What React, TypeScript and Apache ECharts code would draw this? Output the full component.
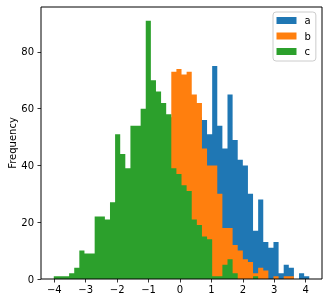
import React, { useEffect, useRef } from "react";
import * as echarts from "echarts";

// Histogram bins (shared by all columns)
const X_MIN = -4.017;
const BIN_W = 0.1626;

// Counts per bin, 50 bins each
const A_COUNTS = [
  0, 0, 0, 0, 0, 0, 0, 0, 0, 0, 0, 0, 1, 1, 2, 3, 4, 6, 8, 12, 14, 19, 24, 28, 35,
  42, 47, 52, 57, 56, 51, 75, 54, 46, 65, 49, 42, 40, 30, 17, 28, 13, 11, 13, 2, 5, 4, 0, 2, 1,
];
const B_COUNTS = [
  0, 0, 0, 0, 1, 0, 1, 1, 2, 3, 4, 5, 8, 11, 13, 19, 22, 30, 34, 43, 46, 55, 57, 73, 74,
  72, 73, 65, 62, 46, 40, 40, 30, 18, 18, 12, 10, 7, 6, 2, 4, 3, 0, 1, 0, 1, 1, 0, 0, 0,
];
const C_COUNTS = [
  1, 1, 1, 2, 4, 10, 9, 9, 22, 22, 21, 27, 51, 44, 39, 54, 54, 60, 91, 70, 66, 62, 58, 39, 37,
  33, 31, 21, 19, 15, 14, 1, 1, 5, 7, 2, 0, 0, 0, 1, 0, 0, 0, 0, 0, 0, 0, 0, 0, 0,
];

const SERIES_NAMES = ["a", "b", "c"];
const COLORS = ["#1f77b4", "#ff7f0e", "#2ca02c"];
const X_TICKS = [-4, -3, -2, -1, 0, 1, 2, 3, 4];
const Y_TICKS = [0, 20, 40, 60, 80];
const X_RANGE = [-4.424, 4.519];
const Y_RANGE = [0, 95.8];
const Y_NAME = "Frequency";

const FONT = "DejaVu Sans";

export default function App() {
  const ref = useRef<HTMLDivElement>(null);
  useEffect(() => {
    const chart = echarts.init(ref.current!, null, { renderer: "svg" });
    const makeSeries = (name: string, counts: number[], color: string) => {
      const pts = counts.map((c, i) => [X_MIN + i * BIN_W, c]);
      pts.push([X_MIN + counts.length * BIN_W, counts[counts.length - 1]]);
      return {
        type: "line",
        name,
        step: "end",
        symbol: "none",
        showSymbol: false,
        clip: true,
        itemStyle: { color },
        lineStyle: { width: 0, color, opacity: 0 },
        areaStyle: { color, opacity: 1 },
        data: pts,
      };
    };
    const allCounts = [A_COUNTS, B_COUNTS, C_COUNTS];
    chart.setOption({
      animation: false,
      textStyle: { fontFamily: FONT },
      grid: {
        left: 41,
        right: 5,
        top: 7,
        bottom: 24,
        containLabel: false,
        outerBoundsMode: "none",
        show: true,
        borderColor: "#000",
        borderWidth: 1,
        backgroundColor: "transparent",
        z: 10,
      },
      legend: {
        orient: "vertical",
        left: 273,
        top: 12,
        icon: "rect",
        itemWidth: 20,
        itemHeight: 7,
        itemGap: 3.5,
        padding: [2.5, 5, 3.5, 3.5],
        backgroundColor: "rgba(255,255,255,0.8)",
        borderColor: "#cccccc",
        borderWidth: 1,
        borderRadius: 3,
        selectedMode: false,
        textStyle: { fontSize: 10, color: "#000", fontFamily: FONT, lineHeight: 12, padding: [0, 0, 0, 3] },
        data: SERIES_NAMES,
      },
      xAxis: {
        type: "value",
        min: X_RANGE[0],
        max: X_RANGE[1],
        splitLine: { show: false },
        axisLine: { show: false, onZero: false },
        axisTick: { show: true, length: 3.5, lineStyle: { color: "#000", width: 0.8 }, customValues: X_TICKS },
        axisLabel: {
          customValues: X_TICKS,
          fontSize: 10,
          color: "#000",
          fontFamily: FONT,
          margin: 5,
          formatter: (v: number) => String(v).replace("-", "\u2212"),
        },
      },
      yAxis: {
        type: "value",
        min: Y_RANGE[0],
        max: Y_RANGE[1],
        name: Y_NAME,
        nameLocation: "middle",
        nameGap: 24,
        nameMoveOverlap: false,
        nameTextStyle: { fontSize: 10, color: "#000", fontFamily: FONT },
        splitLine: { show: false },
        axisLine: { show: false, onZero: false },
        axisTick: { show: true, length: 3.5, lineStyle: { color: "#000", width: 0.8 }, customValues: Y_TICKS },
        axisLabel: {
          customValues: Y_TICKS,
          fontSize: 10,
          color: "#000",
          fontFamily: FONT,
          margin: 7,
        },
      },
      series: SERIES_NAMES.map((n, i) => makeSeries(n, allCounts[i], COLORS[i])),
    });
    return () => chart.dispose();
  }, []);
  return <div ref={ref} style={{ position: "fixed", left: 0, top: 0, width: 327, height: 303 }} />;
}
